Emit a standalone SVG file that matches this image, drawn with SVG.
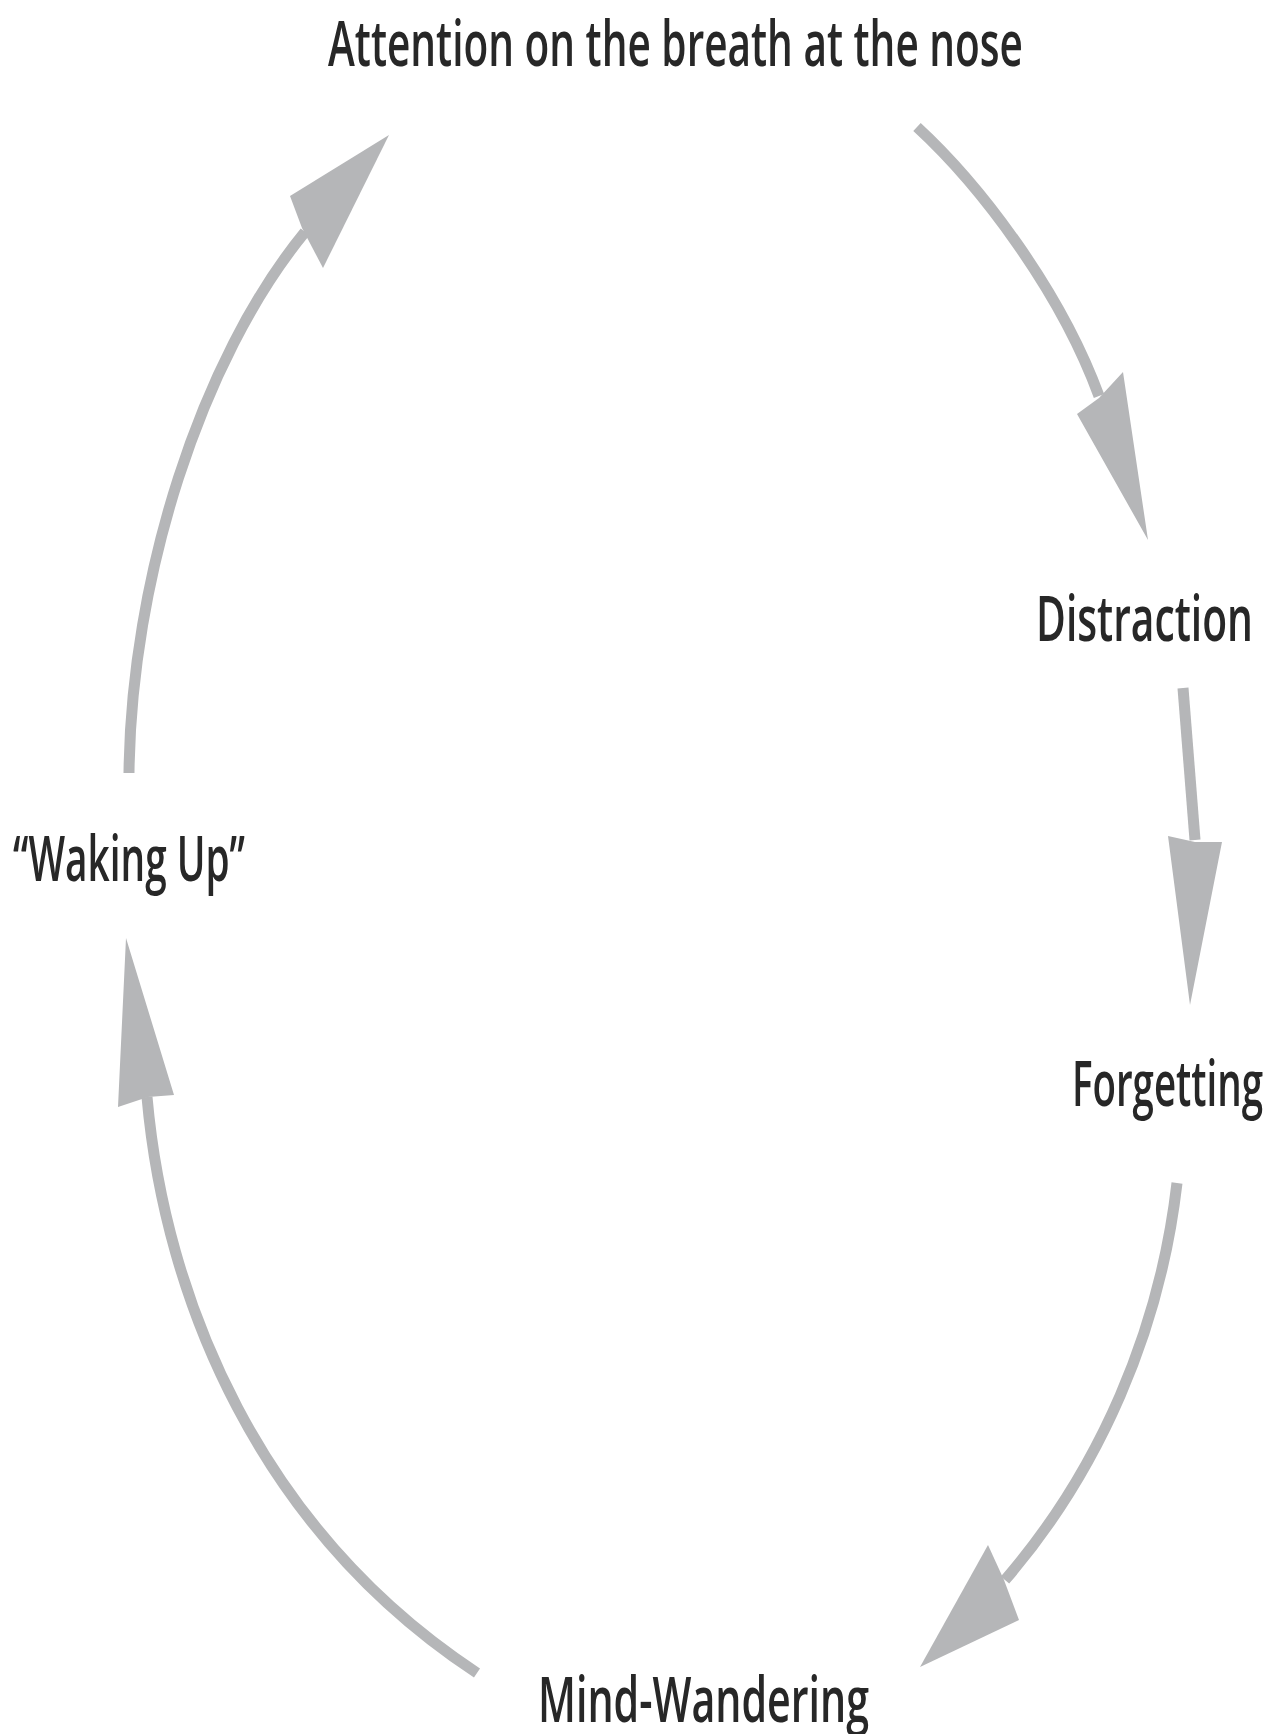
<svg xmlns="http://www.w3.org/2000/svg" width="1276" height="1734" viewBox="0 0 1276 1734">
<style>
.lbl{font-family:"Open Sans","Liberation Sans",sans-serif;font-size:64px;font-weight:600;fill:#272727}
.shaft{fill:none;stroke:#b5b6b8;stroke-width:11;stroke-linecap:butt}
.head{fill:#b5b6b8;stroke:none}
</style>
<rect width="1276" height="1734" fill="#ffffff"/>
<g id="node-attention"><text class="lbl" x="328" y="66" textLength="695" lengthAdjust="spacingAndGlyphs">Attention on the breath at the nose</text></g>
<g id="node-distraction"><text class="lbl" x="1036" y="641" textLength="217" lengthAdjust="spacingAndGlyphs">Distraction</text></g>
<g id="node-forgetting"><text class="lbl" x="1072" y="1106" textLength="191" lengthAdjust="spacingAndGlyphs">Forgetting</text></g>
<g id="node-mindwandering"><text class="lbl" x="538" y="1722" textLength="331" lengthAdjust="spacingAndGlyphs">Mind-Wandering</text></g>
<g id="node-wakingup"><text class="lbl" x="13" y="881" textLength="232" lengthAdjust="spacingAndGlyphs">“Waking Up”</text></g>
<g id="connectors">
<path class="shaft" d="M129,773 C131,580 200,360 305,232"/>
<polygon class="head" points="389,135 323,268 302,228 290,196"/>
<path class="shaft" d="M917,127 C980,185 1060,290 1099,396"/>
<polygon class="head" points="1123,372 1148,540 1077,414 1099,398"/>
<path class="shaft" d="M1183,688 L1195,840"/>
<polygon class="head" points="1168,836 1195,842 1222,842 1190,1005"/>
<path class="shaft" d="M1177,1183 C1160,1330 1100,1470 1005,1580"/>
<polygon class="head" points="988,1545 1004,1580 1019,1620 920,1667"/>
<path class="shaft" d="M477,1673 C260,1530 165,1300 147,1097"/>
<polygon class="head" points="126,938 174,1095 148,1097 118,1107"/>
</g>
</svg>
